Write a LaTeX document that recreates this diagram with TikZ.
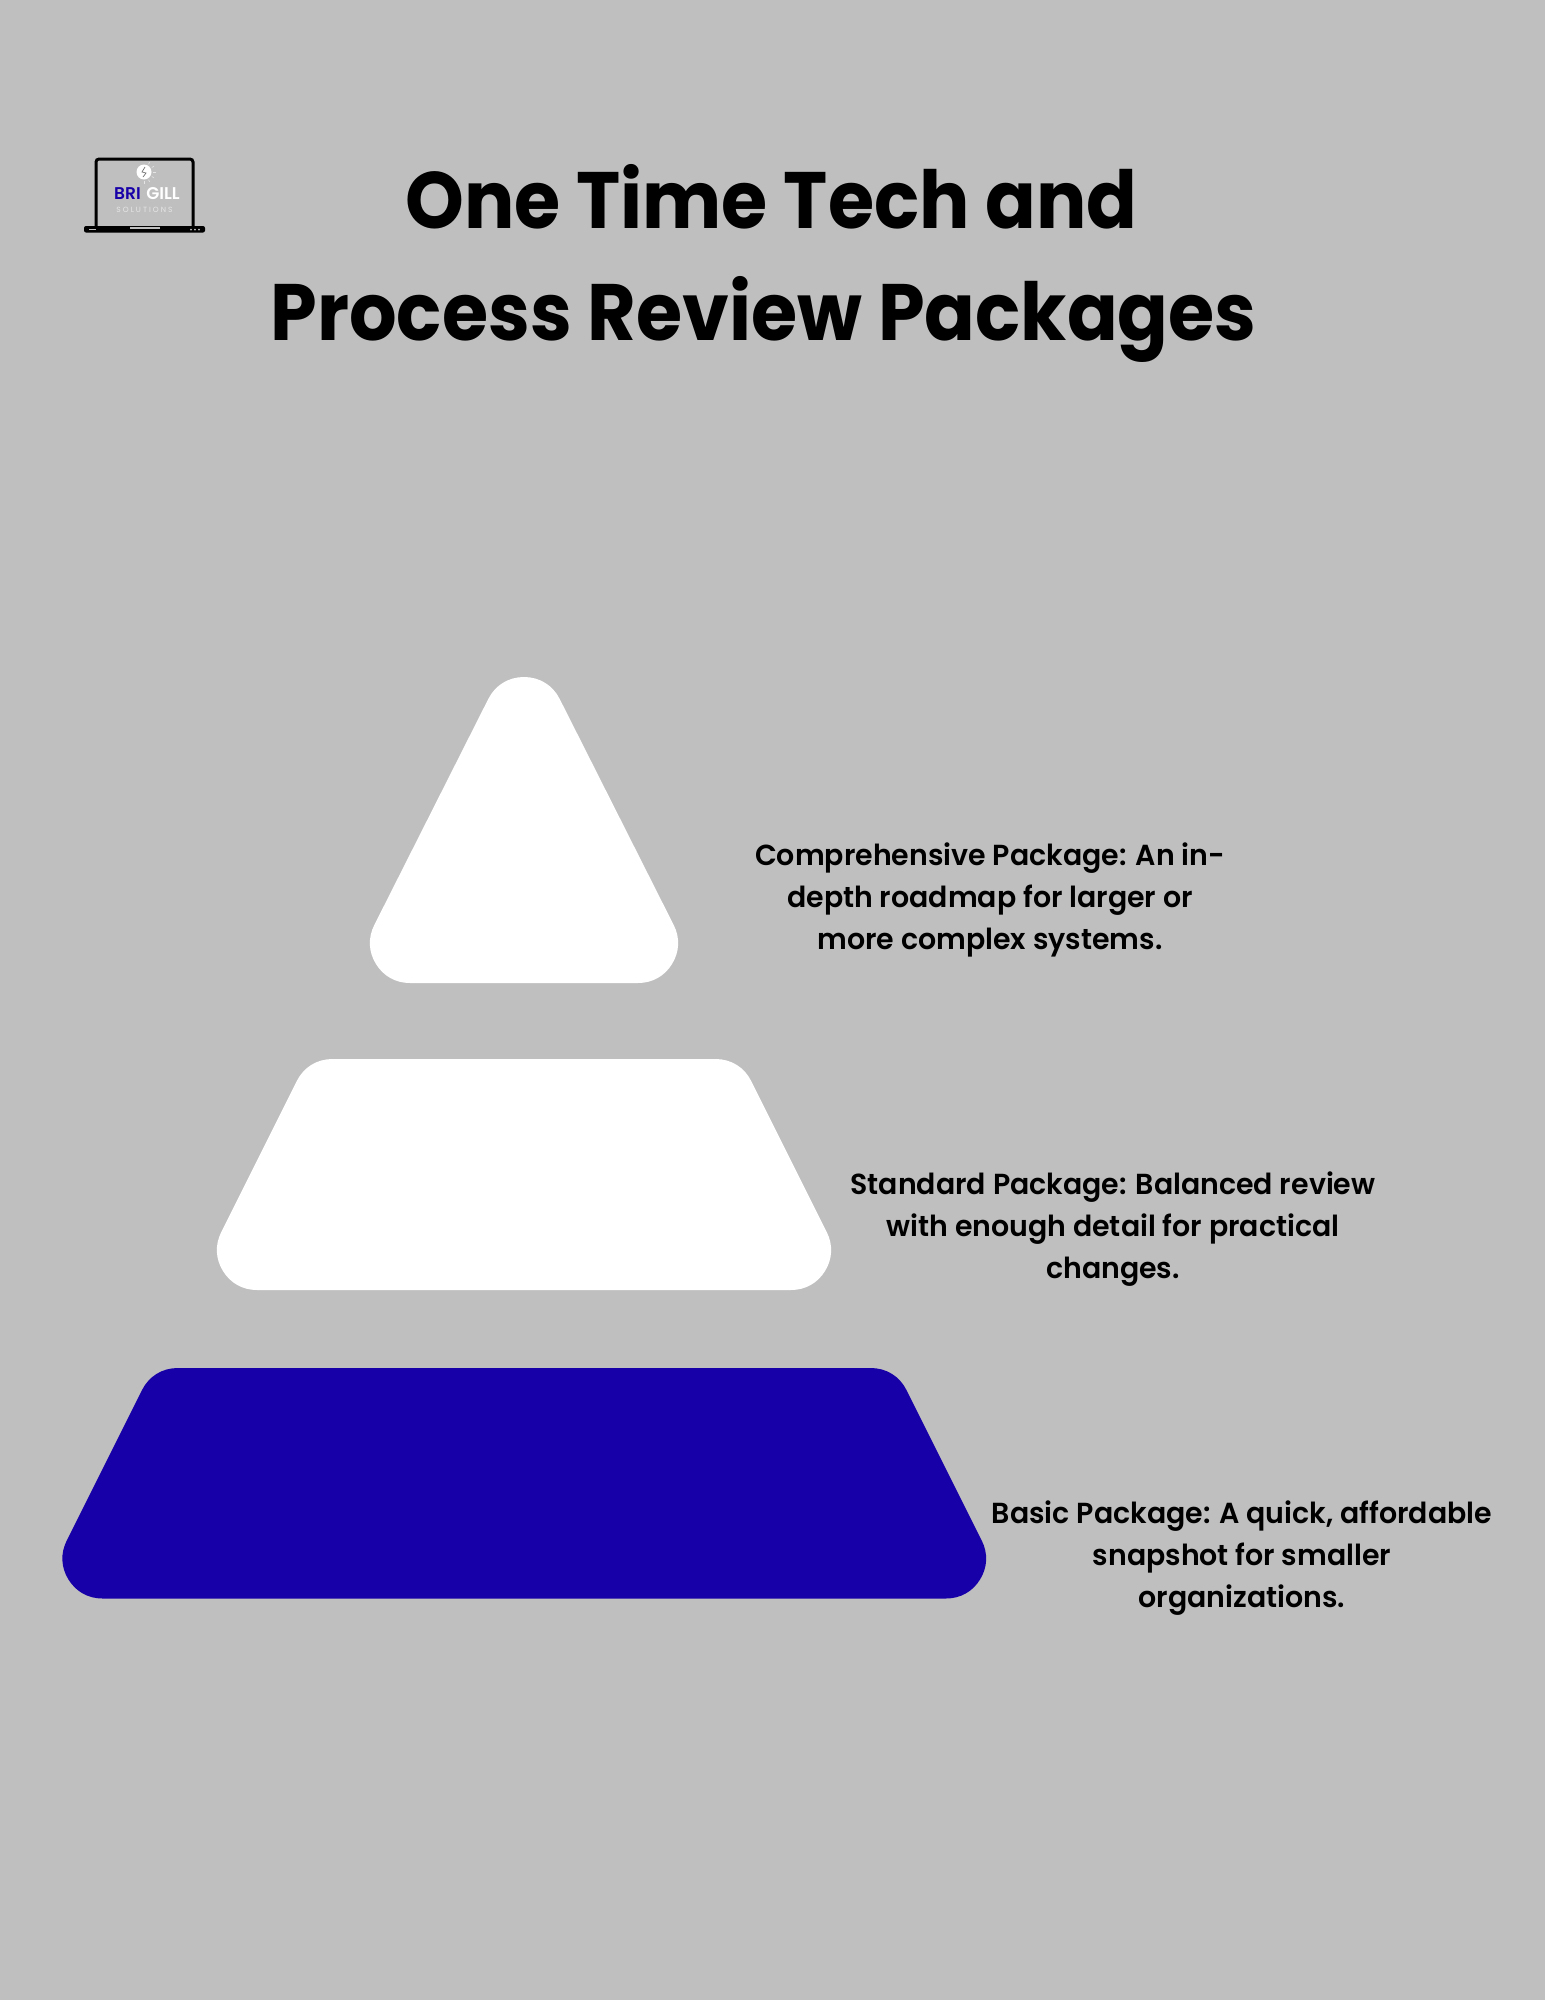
\documentclass[tikz,border=0pt]{standalone}
\usepackage{xcolor}
\usepackage{fontspec}
\usepackage{tikz}
\setmainfont{Poppins}[BoldFont={* SemiBold}]
\newfontfamily\titlefont{Poppins}[BoldFeatures={FakeStretch=0.935}]
\newfontfamily\packfont{Poppins}[BoldFont={* SemiBold}, BoldFeatures={FakeStretch=0.98}]
\definecolor{pagegrey}{HTML}{BFBFBF}
\definecolor{brandblue}{HTML}{1700A8}
\definecolor{logogrey}{HTML}{E6E6E6}
\tikzset{
  titletext/.style={anchor=base, inner sep=0pt, text=black, font=\titlefont\fontsize{80}{80}\selectfont\bfseries},
  packtext/.style={align=center, inner sep=0pt, text=black, font=\packfont\fontsize{29}{41.6}\selectfont\bfseries},
  logotext/.style={anchor=base, inner sep=0pt, font=\fontsize{17}{17}\selectfont\bfseries},
  layer/.style={line width=80pt, line join=round},
}
\begin{document}
\begin{tikzpicture}[x=1pt, y=-1pt]
        % Page
        \fill[pagegrey] (0,0) rectangle (1545,2000);
        \useasboundingbox (0,0) rectangle (1545,2000);

        % Title
        \node[titletext] (title1) at (771.5,228) {One Time Tech and};
        \node[titletext] (title2) at (763.5,340) {Process Review Packages};

        % Pyramid layers
        \filldraw[layer, white] (524,717) -- (638,943) -- (410,943) -- cycle;
        \filldraw[layer, white] (332.5,1099) -- (715.5,1099) -- (791,1250) -- (257,1250) -- cycle;
        \filldraw[layer, brandblue] (177.75,1408) -- (870.75,1408) -- (946,1558.5) -- (102.5,1558.5) -- cycle;

        % Package texts
        \node[packtext] (comprehensive) at (990,900) {Comprehensive Package: An in-\\depth roadmap for larger or\\more complex systems.};
        \node[packtext] (standard) at (1113,1229) {Standard Package: Balanced review\\with enough detail for practical\\changes.};
        \node[packtext] (basic) at (1242,1558) {Basic Package: A quick, affordable\\snapshot for smaller\\organizations.};

        % Logo
        \draw[black, line width=3pt, rounded corners=3] (96,227) -- (96,159) -- (193,159) -- (193,227);
        \fill[black, rounded corners=2] (84,226) rectangle (205,232.5);
        \fill[pagegrey] (130,226.5) rectangle (160,228.5);
        \fill[pagegrey] (89,229) rectangle (96,230);
        \foreach \dotx in {191,195,199}
            \fill[pagegrey] (\dotx,229.5) circle (1);
        \fill[white] (144,172) circle (7.5);
        \foreach \rayangle in {-60,-30,...,90}
            \draw[white!60!pagegrey, line width=0.6pt] (144,172) ++(\rayangle:9) -- ++(\rayangle:2.5);
        \draw[pagegrey!60!black, line width=0.7pt] (145,167) -- (142,172) -- (146,173) -- (143,177);
        \node[logotext, text=brandblue] (logobri) at (127.5,199) {BRI};
        \node[logotext, text=white] (logogill) at (163,199) {GILL};
        \node[logotext, text=logogrey, font=\fontsize{7.5}{7.5}\selectfont] (logosolutions) at (144.5,212) {S O L U T I O N S};
    \end{tikzpicture}
\end{document}
